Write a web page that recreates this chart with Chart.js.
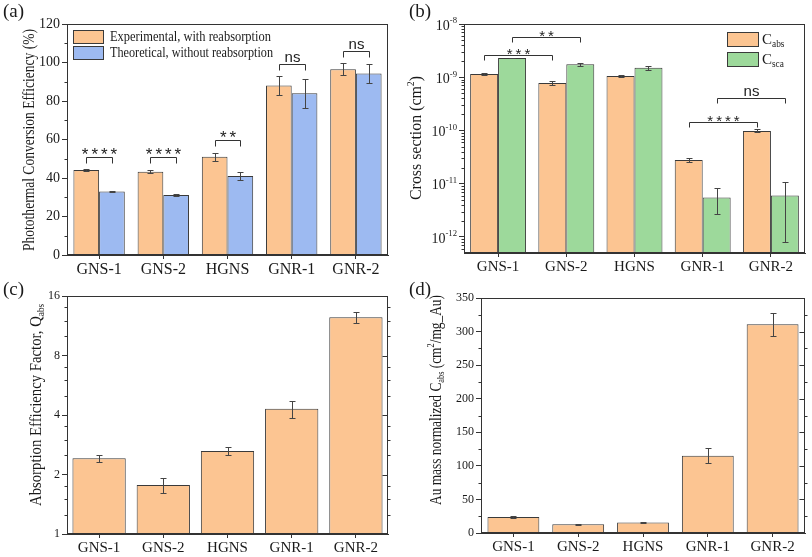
<!DOCTYPE html>
<html>
<head>
<meta charset="utf-8">
<script src="https://cdn.jsdelivr.net/npm/chart.js@4.4.1/dist/chart.umd.min.js"></script>
<style>
body { margin: 0; background: #fff; width: 812px; height: 557px; position: relative; overflow: hidden; }
canvas { position: absolute; }
</style>
</head>
<body>
<canvas id="ca" width="406" height="280" style="left:0;top:0"></canvas>
<canvas id="cb" width="406" height="280" style="left:406px;top:0"></canvas>
<canvas id="cc" width="406" height="279" style="left:0;top:278px"></canvas>
<canvas id="cd" width="406" height="279" style="left:406px;top:278px"></canvas>
<script>
var samples = ['GNS-1', 'GNS-2', 'HGNS', 'GNR-1', 'GNR-2'];

// (a) photothermal conversion efficiency, %
var pceExp = [44.2, 43.3, 51.0, 88.0, 96.5];
var pceExpErr = [0.7, 0.6, 2.0, 4.8, 3.0];
var pceTheo = [33.0, 31.2, 41.0, 84.0, 94.3];
var pceTheoErr = [0.5, 0.3, 2.0, 7.5, 5.0];
var pceTicks = [0, 20, 40, 60, 80, 100, 120];

// (b) cross sections, cm^2
var cAbs = [1.15e-9, 7.8e-10, 1.05e-9, 2.8e-11, 9.8e-11];
var cAbsLo = [1.12e-9, 7.3e-10, 1.01e-9, 2.6e-11, 9.2e-11];
var cAbsHi = [1.18e-9, 8.4e-10, 1.09e-9, 3.05e-11, 1.05e-10];
var cSca = [2.3e-9, 1.75e-9, 1.5e-9, 5.5e-12, 6.0e-12];
var cScaLo = [2.27e-9, 1.66e-9, 1.36e-9, 2.75e-12, 8.0e-13];
var cScaHi = [2.33e-9, 1.85e-9, 1.65e-9, 8.3e-12, 1.1e-11];
var csTicks = [1e-12, 1e-11, 1e-10, 1e-9, 1e-8];

// (c) absorption efficiency factor
var qAbs = [2.42, 1.77, 2.63, 4.3, 12.5];
var qAbsErr = [0.1, 0.15, 0.12, 0.42, 0.75];
var qTicks = [1, 2, 4, 8, 16];

// (d) Au mass normalized C_abs
var massAbs = [24, 13, 15.5, 115, 311];
var massAbsErr = [1.0, 0.5, 0.6, 11, 17];
var massTicks = [0, 50, 100, 150, 200, 250, 300, 350];

// significance brackets: [dataset, category] -> [dataset, category]
var sigA = [
    { from: [0, 0], to: [1, 0], y: 51, text: '****' },
    { from: [0, 1], to: [1, 1], y: 51, text: '****' },
    { from: [0, 2], to: [1, 2], y: 60, text: '**' },
    { from: [0, 3], to: [1, 3], y: 99, text: 'ns' },
    { from: [0, 4], to: [1, 4], y: 106, text: 'ns' }
];
var sigB = [
    { from: [0, 0], to: [0, 1], y: 2.6e-9, text: '***' },
    { from: [1, 0], to: [1, 1], y: 5.6e-9, text: '**' },
    { from: [0, 3], to: [0, 4], y: 1.47e-10, text: '****' },
    { from: [1, 3], to: [1, 4], y: 4.0e-10, text: 'ns' }
];

var ORANGE = '#fcc592';
var BLUE = '#9dbaf1';
var GREEN = '#9dd99b';
var EDGE = '#3a3a3a';
var SERIF = '"Liberation Serif", "Times New Roman", serif';
var SANS = '"Liberation Sans", Arial, sans-serif';

Chart.defaults.font.family = SERIF;
Chart.defaults.color = '#1a1a1a';

function drawRich(ctx, parts, x, y, size) {
    var cx = x;
    parts.forEach(function (p) {
        ctx.font = (p.sub || p.sup ? size * 0.62 : size) + 'px ' + SERIF;
        var dy = p.sub ? size * 0.28 : (p.sup ? -size * 0.35 : 0);
        ctx.fillText(p.t, cx, y + dy);
        cx += ctx.measureText(p.t).width;
    });
}
function richWidth(ctx, parts, size) {
    var w = 0;
    parts.forEach(function (p) {
        ctx.font = (p.sub || p.sup ? size * 0.62 : size) + 'px ' + SERIF;
        w += ctx.measureText(p.t).width;
    });
    return w;
}

function minorValues(kind, ys) {
    var out = [];
    var vals = ys.ticks.map(function (t) { return t.value; });
    if (kind === 'mid') {
        for (var k = 0; k < vals.length - 1; k++) out.push((vals[k] + vals[k + 1]) / 2);
    } else if (kind === 'log') {
        [vals[0] / 10].concat(vals).forEach(function (d) {
            for (var m = 2; m <= 9; m++) out.push(d * m);
        });
    } else if (kind === 'log2') {
        vals.forEach(function (d) {
            [1.25, 1.5, 1.75].forEach(function (f) { out.push(d * f); });
        });
    }
    return out.filter(function (v) { return v > ys.min && v < ys.max; });
}

var decoPlugin = {
    id: 'deco',
    afterDatasetsDraw: function (chart, args, o) {
        if (!o || !o.label) return;
        var ctx = chart.ctx, a = chart.chartArea, ys = chart.scales.y;
        ctx.save();
        ctx.strokeStyle = '#444';
        ctx.lineWidth = 1;
        // error bars
        (o.errors || []).forEach(function (e, di) {
            var meta = chart.getDatasetMeta(di);
            var vals = chart.data.datasets[di].data;
            meta.data.forEach(function (bar, i) {
                var lo = e.err ? vals[i] - e.err[i] : e.lo[i];
                var hi = e.err ? vals[i] + e.err[i] : e.hi[i];
                var y1 = Math.round(ys.getPixelForValue(lo)) + 0.5;
                var y2 = Math.round(ys.getPixelForValue(hi)) + 0.5;
                var x = Math.round(bar.x) + 0.5;
                ctx.beginPath();
                ctx.moveTo(x, y1); ctx.lineTo(x, y2);
                ctx.moveTo(x - 3, y1); ctx.lineTo(x + 3, y1);
                ctx.moveTo(x - 3, y2); ctx.lineTo(x + 3, y2);
                ctx.stroke();
            });
        });
        // frame
        ctx.strokeStyle = '#333';
        var L0 = Math.round(a.left) + 0.5, R0 = Math.round(a.right) - 0.5;
        ctx.strokeRect(L0, Math.round(a.top) + 0.5, R0 - L0, Math.round(a.height) - 1);
        // minor ticks, right-side ticks
        ctx.beginPath();
        minorValues(o.minor, ys).forEach(function (v) {
            var yl = Math.round(ys.getPixelForValue(v)) + 0.5;
            ctx.moveTo(L0 - 3, yl); ctx.lineTo(L0, yl);
            if (o.rightTicks) { ctx.moveTo(R0, yl); ctx.lineTo(R0 + 3, yl); }
        });
        if (o.rightTicks) {
            ys.ticks.forEach(function (t) {
                var yr = Math.round(ys.getPixelForValue(t.value)) + 0.5;
                ctx.moveTo(R0 - 5, yr); ctx.lineTo(R0, yr);
            });
        }
        ctx.stroke();
        // significance brackets
        (o.brackets || []).forEach(function (b) {
            var x1 = Math.round(chart.getDatasetMeta(b.from[0]).data[b.from[1]].x) + 0.5;
            var x2 = Math.round(chart.getDatasetMeta(b.to[0]).data[b.to[1]].x) + 0.5;
            var yb = Math.round(ys.getPixelForValue(b.y)) + 0.5;
            ctx.strokeStyle = '#333';
            ctx.beginPath();
            ctx.moveTo(x1, yb + o.bracketTick); ctx.lineTo(x1, yb);
            ctx.lineTo(x2, yb); ctx.lineTo(x2, yb + o.bracketTick);
            ctx.stroke();
            ctx.fillStyle = '#222';
            ctx.textAlign = 'center';
            ctx.textBaseline = 'alphabetic';
            var star = b.text.indexOf('*') >= 0;
            ctx.font = (star ? o.starSize : o.nsSize) + 'px ' + SANS;
            if (star) {
                ctx.letterSpacing = o.starGap + 'px';
                ctx.fillText(b.text, (x1 + x2) / 2 + o.starGap / 2, yb + o.starDy);
                ctx.letterSpacing = '0px';
            } else {
                ctx.fillText(b.text, (x1 + x2) / 2, yb - 3);
            }
        });
        // legend
        if (o.legend) {
            var L = o.legend;
            L.items.forEach(function (it, i) {
                var lx = Math.round(L.fromRight ? a.right - L.x : a.left + L.x);
                var ly = Math.round(a.top + L.y + i * L.gap);
                ctx.fillStyle = it.color;
                ctx.fillRect(lx, ly, L.w, L.h);
                ctx.strokeStyle = EDGE;
                ctx.strokeRect(lx + 0.5, ly + 0.5, L.w, L.h);
                ctx.fillStyle = '#1a1a1a';
                ctx.textAlign = 'left';
                ctx.textBaseline = 'middle';
                ctx.save();
                ctx.translate(lx + L.w + L.pad, ly + L.h / 2 + 1);
                if (it.len) ctx.scale(it.len / richWidth(ctx, it.parts, L.size), 1);
                drawRich(ctx, it.parts, 0, 0, L.size);
                ctx.restore();
            });
        }
        ctx.restore();
    },
    afterDraw: function (chart, args, o) {
        if (!o || !o.label) return;
        var ctx = chart.ctx, a = chart.chartArea, ys = chart.scales.y;
        ctx.save();
        ctx.fillStyle = '#1a1a1a';
        ctx.textBaseline = 'middle';
        ctx.textAlign = 'left';
        ctx.font = '19px ' + SERIF;
        ctx.fillText(o.label, 3, 12);
        // power-of-ten tick labels for the log axis
        if (o.powerLabels) {
            ys.ticks.forEach(function (t) {
                var parts = [{ t: '10' }, { t: String(Math.round(Math.log10(t.value))), sup: true }];
                var w = richWidth(ctx, parts, o.powerLabels);
                drawRich(ctx, parts, a.left - 7 - w, ys.getPixelForValue(t.value) + 2, o.powerLabels);
            });
        }
        // rotated y title, squeezed to its measured length in the reference
        var t = o.title;
        var tw = richWidth(ctx, t.parts, t.size);
        ctx.translate(t.x, t.y);
        ctx.rotate(-Math.PI / 2);
        ctx.scale(t.len / tw, 1);
        drawRich(ctx, t.parts, -tw / 2, 0, t.size);
        ctx.restore();
    }
};
Chart.register(decoPlugin);

function axisX(h, size) {
    return {
        offset: true,
        grid: { display: true, drawOnChartArea: false, offset: false, tickLength: 4, color: '#333' },
        border: { display: true, color: '#333' },
        ticks: { font: { size: size }, padding: 1, color: '#1a1a1a' },
        afterFit: function (s) { s.height = h; }
    };
}
function axisY(w, size, extra) {
    var y = {
        grid: { display: true, drawOnChartArea: false, tickLength: 5, color: '#333' },
        border: { display: true, color: '#333' },
        ticks: { font: { size: size }, padding: 2, color: '#1a1a1a' },
        afterFit: function (s) { s.width = w; }
    };
    return Object.assign(y, extra);
}
function baseOptions(pad, x, y, decoOpts) {
    return {
        responsive: false,
        animation: false,
        devicePixelRatio: 1,
        layout: { padding: pad },
        scales: { x: x, y: y },
        plugins: { legend: { display: false }, tooltip: { enabled: false }, deco: decoOpts }
    };
}

// (a)
new Chart(document.getElementById('ca'), {
    type: 'bar',
    data: {
        labels: samples,
        datasets: [
            { data: pceExp, backgroundColor: ORANGE, borderColor: EDGE, borderWidth: 1, categoryPercentage: 0.8, barPercentage: 1 },
            { data: pceTheo, backgroundColor: BLUE, borderColor: EDGE, borderWidth: 1, categoryPercentage: 0.8, barPercentage: 1 }
        ]
    },
    options: baseOptions({ left: 0, top: 24, right: 18, bottom: 0 }, axisX(25, 16),
        axisY(67, 14, {
            min: 0, max: 120,
            afterBuildTicks: function (s) { s.ticks = pceTicks.map(function (v) { return { value: v }; }); }
        }),
        {
            label: '(a)',
            errors: [{ err: pceExpErr }, { err: pceTheoErr }],
            minor: 'mid',
            brackets: sigA, bracketTick: 6, starSize: 17, starGap: 3, starDy: 2, nsSize: 15,
            legend: {
                x: 6, y: 6, w: 30, h: 13, gap: 16, pad: 7, size: 14,
                items: [
                    { color: ORANGE, len: 161, parts: [{ t: 'Experimental, with reabsorption' }] },
                    { color: BLUE, len: 163, parts: [{ t: 'Theoretical, without reabsorption' }] }
                ]
            },
            title: { x: 30, y: 140, size: 16, len: 222, parts: [{ t: 'Photothermal Conversion Efficiency (%)' }] }
        })
});

// (b)
new Chart(document.getElementById('cb'), {
    type: 'bar',
    data: {
        labels: samples,
        datasets: [
            { data: cAbs, backgroundColor: ORANGE, borderColor: EDGE, borderWidth: 1, categoryPercentage: 0.82, barPercentage: 1 },
            { data: cSca, backgroundColor: GREEN, borderColor: EDGE, borderWidth: 1, categoryPercentage: 0.82, barPercentage: 1 }
        ]
    },
    options: baseOptions({ left: 0, top: 24, right: 7, bottom: 0 }, axisX(27, 15),
        axisY(58, 13, {
            type: 'logarithmic', min: 5e-13, max: 1e-8,
            afterBuildTicks: function (s) { s.ticks = csTicks.map(function (v) { return { value: v }; }); },
            ticks: { font: { size: 13 }, padding: 2, callback: function () { return ''; } }
        }),
        {
            label: '(b)',
            powerLabels: 14,
            errors: [{ lo: cAbsLo, hi: cAbsHi }, { lo: cScaLo, hi: cScaHi }],
            minor: 'log',
            brackets: sigB, bracketTick: 5, starSize: 15, starGap: 3, starDy: 3, nsSize: 15,
            legend: {
                fromRight: true, x: 78, y: 8, w: 31, h: 14, gap: 20, pad: 4, size: 15,
                items: [
                    { color: ORANGE, parts: [{ t: 'C' }, { t: 'abs', sub: true }] },
                    { color: GREEN, parts: [{ t: 'C' }, { t: 'sca', sub: true }] }
                ]
            },
            title: { x: 11, y: 138, size: 16, len: 124, parts: [{ t: 'Cross section (cm' }, { t: '2', sup: true }, { t: ')' }] }
        })
});

// (c)
new Chart(document.getElementById('cc'), {
    type: 'bar',
    data: {
        labels: samples,
        datasets: [
            { data: qAbs, backgroundColor: ORANGE, borderColor: EDGE, borderWidth: 1, categoryPercentage: 1, barPercentage: 0.83 }
        ]
    },
    options: baseOptions({ left: 0, top: 18, right: 18, bottom: 0 }, axisX(23, 15),
        axisY(67, 12, {
            type: 'logarithmic', min: 1, max: 16,
            afterBuildTicks: function (s) { s.ticks = qTicks.map(function (v) { return { value: v }; }); },
            ticks: { font: { size: 12 }, padding: 2, color: '#1a1a1a', callback: function (v) { return String(v); } }
        }),
        {
            label: '(c)',
            errors: [{ err: qAbsErr }],
            minor: 'log2',
            rightTicks: true,
            title: { x: 37, y: 127, size: 16, len: 202, parts: [{ t: 'Absorption Efficiency Factor, Q' }, { t: 'abs', sub: true }] }
        })
});

// (d)
new Chart(document.getElementById('cd'), {
    type: 'bar',
    data: {
        labels: samples,
        datasets: [
            { data: massAbs, backgroundColor: ORANGE, borderColor: EDGE, borderWidth: 1, categoryPercentage: 1, barPercentage: 0.8 }
        ]
    },
    options: baseOptions({ left: 0, top: 20, right: 7, bottom: 0 }, axisX(24, 15),
        axisY(75, 12, {
            min: 0, max: 350,
            afterBuildTicks: function (s) { s.ticks = massTicks.map(function (v) { return { value: v }; }); }
        }),
        {
            label: '(d)',
            errors: [{ err: massAbsErr }],
            minor: 'mid',
            rightTicks: true,
            title: { x: 31, y: 122, size: 16, len: 210, parts: [{ t: 'Au mass normalized C' }, { t: 'abs', sub: true }, { t: ' (cm' }, { t: '2', sup: true }, { t: '/mg_Au)' }] }
        })
});
</script>
</body>
</html>
